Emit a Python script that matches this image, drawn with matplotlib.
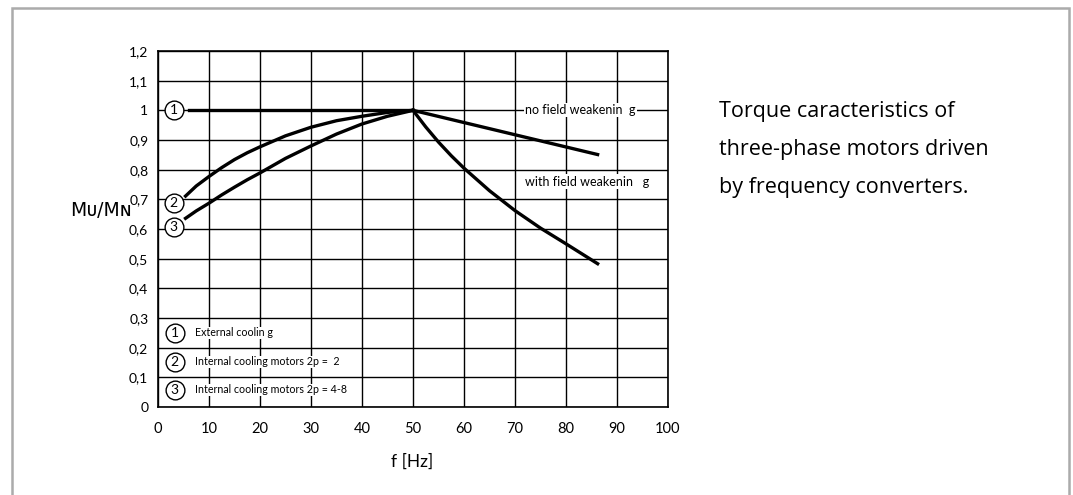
import matplotlib.pyplot as plt
from matplotlib.patches import Rectangle

plt.rcParams['font.family'] = ['Lato', 'DejaVu Sans']

# values
freq_ext = [6.0, 50]
torque_ext = [1.0, 1.0]

freq_int = [5.4, 7.5, 10, 12.5, 15, 17.5, 20, 25, 30, 35, 40, 45, 50]
torque_2p2 = [0.711, 0.745, 0.777, 0.807, 0.834, 0.857, 0.877, 0.914, 0.943,
              0.965, 0.980, 0.993, 1.0]
torque_2p48 = [0.636, 0.661, 0.687, 0.715, 0.741, 0.766, 0.789, 0.838, 0.880,
               0.920, 0.954, 0.980, 1.0]

freq_nofw = [50, 86.2]
torque_nofw = [1.0, 0.851]

freq_fw = [50, 52.5, 55, 57.5, 60, 65, 70, 75, 80, 86.2]
torque_fw = [1.0, 0.944, 0.893, 0.847, 0.805, 0.729, 0.662, 0.603, 0.550, 0.483]

marker_labels = ['1', '2', '3']
marker_x = [3.1, 3.1, 3.1]
marker_y = [1.0, 0.687, 0.607]

legend_labels = ['External coolin g', 'Internal cooling motors 2p =  2',
                 'Internal cooling motors 2p = 4-8']
legend_y = [0.25, 0.152, 0.058]

xticks = list(range(0, 101, 10))
yticks = [0, 0.1, 0.2, 0.3, 0.4, 0.5, 0.6, 0.7, 0.8, 0.9, 1.0, 1.1, 1.2]
ytick_labels = ['0', '0,1', '0,2', '0,3', '0,4', '0,5', '0,6', '0,7', '0,8',
                '0,9', '1', '1,1', '1,2']

fig = plt.figure(figsize=(10.73, 4.95), dpi=100)
ax = fig.add_axes([158 / 1073, 1 - 407 / 495, 510 / 1073, 356 / 495])

# outer grey frame (open at the bottom)
fig.add_artist(Rectangle((12 / 1073, -0.05), (1069 - 12) / 1073, 1.05 - 8 / 495,
                         transform=fig.transFigure, fill=False,
                         ec='#ababab', lw=1.8))

ax.set_xlim(0, 100)
ax.set_ylim(0, 1.2)
ax.set_xticks(xticks)
ax.set_yticks(yticks)
ax.set_yticklabels(ytick_labels)
ax.tick_params(length=0)
ax.tick_params(axis='x', pad=11, labelsize=10.5)
ax.tick_params(axis='y', pad=7, labelsize=10)
ax.grid(True, color='black', lw=1.0)
ax.set_axisbelow(True)
for s in ax.spines.values():
    s.set_linewidth(1.2)

lw = 2.4
kw = dict(color='black', lw=lw, zorder=3, solid_joinstyle='round')
ax.plot(freq_ext, torque_ext, **kw)
ax.plot(freq_int, torque_2p2, **kw)
ax.plot(freq_int, torque_2p48, **kw)
ax.plot(freq_nofw, torque_nofw, **kw)
ax.plot(freq_fw, torque_fw, **kw)

# circled curve numbers
ax.plot(marker_x, marker_y, 'o', ms=13.5, mfc='white', mec='black', mew=1.0,
        zorder=4, clip_on=False)
for lab, x, y in zip(marker_labels, marker_x, marker_y):
    ax.text(x, y, lab, ha='center', va='center', fontsize=10, zorder=5)

# legend in the lower-left cells
ax.plot([3.3] * 3, legend_y, 'o', ms=13.5, mfc='white', mec='black', mew=1.0, zorder=4)
for lab, y, txt in zip(marker_labels, legend_y, legend_labels):
    ax.text(3.3, y, lab, ha='center', va='center', fontsize=10, zorder=5)
    ax.text(7.3, y, txt, ha='left', va='center', fontsize=7.7, zorder=5,
            bbox=dict(fc='white', ec='none', pad=0.5))

ax.text(72, 1.0, 'no field weakenin  g', ha='left', va='center', fontsize=9,
        zorder=5, bbox=dict(fc='white', ec='none', pad=0.8))
ax.text(72, 0.76, 'with field weakenin   g', ha='left', va='center', fontsize=9,
        zorder=5, bbox=dict(fc='white', ec='none', pad=0.8))

fig.text(412 / 1073, 1 - 462 / 495, 'f [Hz]', ha='center', va='center', fontsize=12.5)
fig.text(132 / 1073, 1 - 210 / 495, 'M\u1d1c/M\u0274', ha='right', va='center',
         fontsize=13.5, family=['DejaVu Sans'])

desc = ['Torque caracteristics of', 'three-phase motors driven',
        'by frequency converters.']
for i, line in enumerate(desc):
    fig.text(719 / 1073, 1 - (112 + 37.5 * i) / 495, line, ha='left', va='center',
             fontsize=15.5, family=['Open Sans', 'DejaVu Sans'])

fig.savefig('out.png', dpi=100)
